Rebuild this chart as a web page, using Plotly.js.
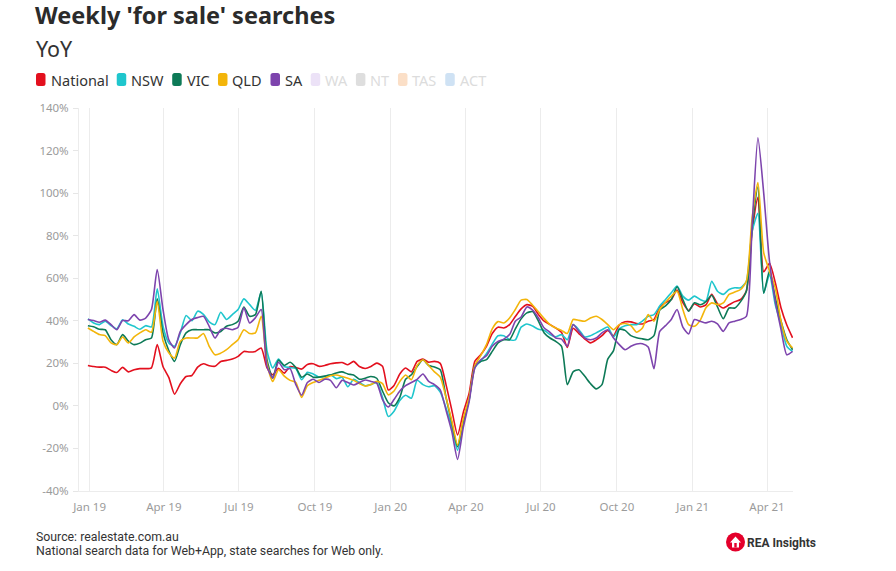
<!DOCTYPE html>
<html>
<head>
<meta charset="utf-8">
<script src="https://cdn.plot.ly/plotly-3.0.1.min.js"></script>
<style>
html,body{margin:0;padding:0;background:#fff;}
#chart{width:896px;height:571px;}
</style>
</head>
<body>
<div id="chart"></div>
<script>
// ---------------- DATA ----------------
const dates = [
'2018-12-30',
'2019-01-06','2019-01-13','2019-01-20','2019-01-27','2019-02-03','2019-02-10','2019-02-17','2019-02-24',
'2019-03-03','2019-03-10','2019-03-17','2019-03-24','2019-03-31','2019-04-07','2019-04-14','2019-04-21',
'2019-04-28','2019-05-05','2019-05-12','2019-05-19','2019-05-26','2019-06-02','2019-06-09','2019-06-16',
'2019-06-23','2019-06-30','2019-07-07','2019-07-14','2019-07-21','2019-07-28','2019-08-04','2019-08-11',
'2019-08-18','2019-08-25','2019-09-01','2019-09-08','2019-09-15','2019-09-22','2019-09-29','2019-10-06',
'2019-10-13','2019-10-20','2019-10-27','2019-11-03','2019-11-10','2019-11-17','2019-11-24','2019-12-01',
'2019-12-08','2019-12-15','2019-12-22','2019-12-29',
'2020-01-05','2020-01-12','2020-01-19','2020-01-26','2020-02-02','2020-02-09','2020-02-16','2020-02-23',
'2020-03-01','2020-03-08','2020-03-15','2020-03-22','2020-03-29','2020-04-05','2020-04-12','2020-04-19',
'2020-04-26','2020-05-03','2020-05-10','2020-05-17','2020-05-24','2020-05-31','2020-06-07','2020-06-14',
'2020-06-21','2020-06-28','2020-07-05','2020-07-12','2020-07-19','2020-07-26','2020-08-02','2020-08-09',
'2020-08-16','2020-08-23','2020-08-30','2020-09-06','2020-09-13','2020-09-20','2020-09-27','2020-10-04',
'2020-10-11','2020-10-18','2020-10-25','2020-11-01','2020-11-08','2020-11-15','2020-11-22','2020-11-29',
'2020-12-06','2020-12-13','2020-12-20','2020-12-27',
'2021-01-03','2021-01-10','2021-01-17','2021-01-24','2021-01-31','2021-02-07','2021-02-14','2021-02-21',
'2021-02-28','2021-03-07','2021-03-14','2021-03-21','2021-03-28','2021-04-04','2021-04-11','2021-04-18',
'2021-04-25','2021-05-02'
];

const national = [
19.0,18.5,18.2,18.2,16.7,15.7,18.1,16.0,17.0,17.5,17.5,17.9,
28.8,18.5,13.4,5.5,10.4,13.8,14.3,18.2,19.8,18.9,18.6,20.9,
21.4,22.0,23.3,25.6,25.3,25.6,27.2,18.0,14.6,17.7,15.4,18.5,
18.0,17.3,19.5,19.8,18.6,19.0,19.8,20.2,20.4,19.3,20.9,18.5,
17.6,18.5,20.1,18.6,7.5,9.6,15.0,17.8,16.0,20.9,22.0,20.5,
20.9,20.0,10.0,-2.0,-13.7,-3.0,6.0,21.0,24.0,28.0,34.0,37.0,
36.6,38.2,42.0,45.6,47.6,46.8,43.0,39.8,38.2,36.6,34.5,27.5,
36.5,34.0,31.5,29.6,31.0,33.0,35.5,33.0,38.0,39.5,39.5,38.7,
38.5,39.8,40.6,46.5,48.5,50.0,54.5,48.5,44.8,48.0,46.5,47.5,
52.4,48.0,46.0,47.5,49.0,50.0,54.0,82.0,98.0,63.0,67.0,58.0,
46.0,38.0,32.0
];

const nsw = [
40.9,39.0,38.2,39.8,37.8,36.2,40.5,38.5,37.4,36.0,37.7,37.1,
55.0,37.4,29.6,28.0,34.3,42.5,40.0,44.5,43.0,39.5,38.2,44.0,
40.6,42.9,45.3,50.3,47.6,44.9,53.5,26.0,17.8,22.0,18.5,18.0,
17.5,12.3,15.8,15.0,13.5,13.8,14.6,12.8,13.5,9.0,12.5,11.0,
9.5,10.0,11.0,4.0,-5.0,-2.5,2.5,5.0,3.6,12.0,10.0,9.0,
9.5,6.5,-1.0,-10.0,-20.8,-8.0,3.0,18.0,21.0,24.5,29.0,33.0,
33.0,31.1,31.0,37.0,38.5,37.5,36.0,35.5,33.5,32.5,33.5,31.1,
38.2,35.8,32.4,33.0,34.3,35.8,37.1,32.4,36.3,37.7,38.2,38.2,
39.8,42.1,42.9,46.9,50.0,53.2,56.3,51.6,49.7,51.6,50.0,49.2,
58.6,53.9,52.4,54.7,55.5,55.5,58.6,82.0,90.5,53.0,61.8,47.6,
38.2,28.0,25.6
];

const vic = [
37.7,37.2,36.0,35.8,31.1,28.8,33.5,30.5,28.8,29.5,31.1,31.9,
50.3,34.3,26.0,20.9,28.8,34.3,35.8,35.8,35.8,35.8,34.3,35.0,
37.4,38.2,39.8,46.5,42.1,42.9,53.9,21.7,13.1,21.5,19.0,20.5,
18.0,13.5,15.0,13.5,13.5,14.0,14.5,15.5,16.0,15.0,14.5,12.5,
13.0,13.8,13.0,7.0,1.5,0.0,4.0,12.5,14.6,18.5,21.7,19.0,
18.3,17.0,4.0,-8.0,-19.2,-7.0,3.0,19.0,20.9,21.7,25.6,29.6,
31.1,31.1,36.2,40.9,43.7,44.3,39.8,34.3,31.9,30.3,28.0,10.0,
16.0,17.0,14.0,10.5,8.0,10.0,22.0,26.0,36.0,35.5,33.0,32.0,
31.5,31.1,33.0,45.0,47.0,50.0,56.0,50.0,44.5,48.5,47.5,49.0,
52.0,46.5,41.0,46.0,46.0,49.0,54.0,84.0,103.0,53.0,63.4,50.8,
39.8,31.1,26.4
];

const qld = [
36.6,35.0,33.5,33.0,29.6,28.8,32.4,29.6,32.4,34.3,35.8,34.6,
49.2,30.5,25.0,22.5,30.4,31.9,31.9,31.9,34.0,28.0,24.0,24.8,
26.4,28.8,31.1,35.8,34.0,34.3,42.1,20.0,11.5,17.0,14.0,12.0,
11.0,4.0,9.5,11.0,12.0,13.0,14.2,14.5,13.8,13.0,12.0,10.5,
9.3,10.0,11.5,10.5,5.2,7.0,11.5,14.5,12.3,19.0,21.7,19.0,
16.0,13.5,4.0,-7.0,-18.4,-6.0,4.0,19.0,23.6,28.8,36.2,39.6,
39.0,41.3,45.3,49.7,50.0,47.3,44.2,41.0,38.2,36.6,35.5,34.0,
40.6,40.2,39.8,41.3,42.1,40.6,38.2,35.8,38.2,38.7,37.7,34.6,
36.6,42.9,39.8,45.3,48.7,51.6,53.9,45.3,38.2,37.4,40.2,46.1,
48.4,47.6,48.4,52.4,53.5,54.7,58.6,88.5,105.0,72.0,63.4,55.5,
39.8,30.4,27.2
];

const sa = [
40.6,40.1,39.3,40.3,38.2,35.8,40.1,40.0,42.9,40.3,41.3,45.3,
64.1,45.3,31.1,27.2,35.0,38.2,40.6,41.5,42.1,37.4,31.9,35.8,
36.5,35.8,37.0,46.1,39.0,41.4,45.3,18.6,13.1,20.5,17.0,17.5,
10.0,5.0,11.0,12.5,11.0,12.5,12.0,8.5,12.0,11.0,9.8,11.0,
12.2,11.5,10.7,3.0,-0.5,3.0,7.0,9.5,11.0,12.5,15.0,11.5,
10.0,7.5,-2.0,-12.0,-25.2,-10.0,2.0,18.0,21.7,23.6,28.0,30.3,
31.4,33.5,39.8,41.8,46.5,45.0,41.3,36.6,34.6,31.9,31.4,28.0,
38.2,35.0,31.9,31.1,31.9,34.3,35.8,31.9,28.8,26.4,28.0,29.1,
29.2,27.7,17.5,35.0,37.7,40.6,45.3,37.0,33.8,40.6,39.8,39.0,
39.8,38.5,35.0,39.0,39.8,40.6,42.1,85.0,126.0,100.0,68.0,49.2,
35.9,24.0,25.6
];

const seriesNames  = ['National','NSW','VIC','QLD','SA','WA','NT','TAS','ACT'];
const seriesValues = [national, nsw, vic, qld, sa];
const seriesColors = ['#e3101e','#1fc6cd','#0d7a57','#f3b50a','#7d44ad'];
const hiddenColors = ['#ece2f7','#dedede','#fbdfc7','#cfe2f4'];

const xTickVals = ['2019-01-01','2019-04-01','2019-07-01','2019-10-01','2020-01-01','2020-04-01','2020-07-01','2020-10-01','2021-01-01','2021-04-01'];
const xTickText = ['Jan 19','Apr 19','Jul 19','Oct 19','Jan 20','Apr 20','Jul 20','Oct 20','Jan 21','Apr 21'];
const yTickVals = [-40,-20,0,20,40,60,80,100,120,140];
const yTickText = ['-40%','-20%','0%','20%','40%','60%','80%','100%','120%','140%'];

const titleText = "Weekly 'for sale' searches";
const subtitleText = 'YoY';
const sourceLines = ['Source: realestate.com.au', 'National search data for Web+App, state searches for Web only.'];
const logoText = 'REA Insights';

// ---------------- LAYOUT HELPERS ----------------
const W = 896, H = 571;
const M = {l: 79, r: 103, t: 108, b: 80};
const plotW = W - M.l - M.r, plotH = H - M.t - M.b;
const px = x => (x - M.l) / plotW;
const py = y => (H - M.b - y) / plotH;
const FONT = "'Noto Sans', 'Open Sans', sans-serif";

const traces = seriesValues.map((vals, i) => ({
  type: 'scatter', mode: 'lines', x: dates, y: vals, name: seriesNames[i],
  line: {color: seriesColors[i], width: 1.6, shape: 'spline', smoothing: 0.6},
  showlegend: false, hoverinfo: 'skip'
}));

// custom legend (rounded swatches + labels)
const shapes = [];
const annotations = [];
const ctx = document.createElement('canvas').getContext('2d');
const legendFontSize = 14.5;
ctx.font = legendFontSize + "px 'Noto Sans'";
let lx = 36;
const legendY = 79.5;
seriesNames.forEach((name, i) => {
  const active = i < seriesColors.length;
  const col = active ? seriesColors[i] : hiddenColors[i - seriesColors.length];
  const x0 = lx, x1 = lx + 9.5, y0 = legendY - 6.5, y1 = legendY + 6.5, r = 2.5;
  const path = `M${px(x0+r)},${py(y0)} L${px(x1-r)},${py(y0)} Q${px(x1)},${py(y0)} ${px(x1)},${py(y0+r)} ` +
               `L${px(x1)},${py(y1-r)} Q${px(x1)},${py(y1)} ${px(x1-r)},${py(y1)} L${px(x0+r)},${py(y1)} ` +
               `Q${px(x0)},${py(y1)} ${px(x0)},${py(y1-r)} L${px(x0)},${py(y0+r)} Q${px(x0)},${py(y0)} ${px(x0+r)},${py(y0)} Z`;
  shapes.push({type: 'path', xref: 'paper', yref: 'paper', path: path, fillcolor: col, line: {width: 0}});
  annotations.push({xref: 'paper', yref: 'paper', x: px(lx + 12.5), y: py(legendY), xanchor: 'left', yanchor: 'middle',
    text: name, showarrow: false, font: {family: FONT, size: legendFontSize, color: active ? '#333333' : '#dcdcdc'}});
  lx += 14 + ctx.measureText(name).width + 9;
});

// subtitle
annotations.push({xref: 'paper', yref: 'paper', x: px(34), y: py(32), xanchor: 'left', yanchor: 'top',
  text: subtitleText, showarrow: false, font: {family: FONT, size: 21.5, color: '#333333'}});

// footer
sourceLines.forEach((t, i) => {
  annotations.push({xref: 'paper', yref: 'paper', x: px(34), y: py(537 + i * 14), xanchor: 'left', yanchor: 'middle',
    text: t, showarrow: false, font: {family: 'Roboto, sans-serif', size: 12.3, color: '#333333'}});
});

// logo
const cx = 735.5, cy = 542, cr = 9.5;
shapes.push({type: 'circle', xref: 'paper', yref: 'paper', x0: px(cx-cr), x1: px(cx+cr), y0: py(cy+cr), y1: py(cy-cr),
  fillcolor: '#e4002b', line: {width: 0}});
const house = [[730,542.5],[735.5,536.5],[741,542.5],[739,542.5],[739,547.5],[732,547.5],[732,542.5]];
shapes.push({type: 'path', xref: 'paper', yref: 'paper',
  path: 'M' + house.map(p => px(p[0]) + ',' + py(p[1])).join(' L') + ' Z', fillcolor: '#ffffff', line: {width: 0}});
shapes.push({type: 'rect', xref: 'paper', yref: 'paper', x0: px(734.3), x1: px(736.7), y0: py(547.5), y1: py(543),
  fillcolor: '#e4002b', line: {width: 0}});
annotations.push({xref: 'paper', yref: 'paper', x: px(745), y: py(542.5), xanchor: 'left', yanchor: 'middle',
  text: '<b>' + logoText + '</b>', showarrow: false, font: {family: 'Roboto, sans-serif', size: 12, color: '#333333'}});

const layout = {
  width: W, height: H,
  margin: M,
  paper_bgcolor: '#ffffff', plot_bgcolor: '#ffffff',
  showlegend: false,
  title: {text: '<b>' + titleText + '</b>', font: {family: FONT, size: 23.5, color: '#2b2b2b'},
          xref: 'container', yref: 'container', x: 35 / W, xanchor: 'left', y: 1 - 16 / H, yanchor: 'middle'},
  xaxis: {
    type: 'date', range: ['2018-12-19 05:00', '2021-05-02 12:00'],
    tickvals: xTickVals, ticktext: xTickText,
    showgrid: true, gridcolor: '#ececec', gridwidth: 1,
    showline: true, linecolor: '#ececec', linewidth: 1,
    ticks: 'outside', ticklen: 5, tickcolor: '#ffffff',
    zeroline: false,
    tickfont: {family: FONT, size: 11.5, color: '#9b9b9b'}
  },
  yaxis: {
    range: [-40, 140], tickvals: yTickVals, ticktext: yTickText,
    showgrid: false, zeroline: false,
    showline: true, linecolor: '#ececec', linewidth: 1,
    ticks: 'outside', ticklen: 5, tickcolor: '#e6e6e6',
    ticklabelstandoff: 2,
    tickfont: {family: FONT, size: 11.5, color: '#9b9b9b'}
  },
  shapes: shapes,
  annotations: annotations
};

Plotly.newPlot('chart', traces, layout, {staticPlot: true, displayModeBar: false});
</script>
</body>
</html>
